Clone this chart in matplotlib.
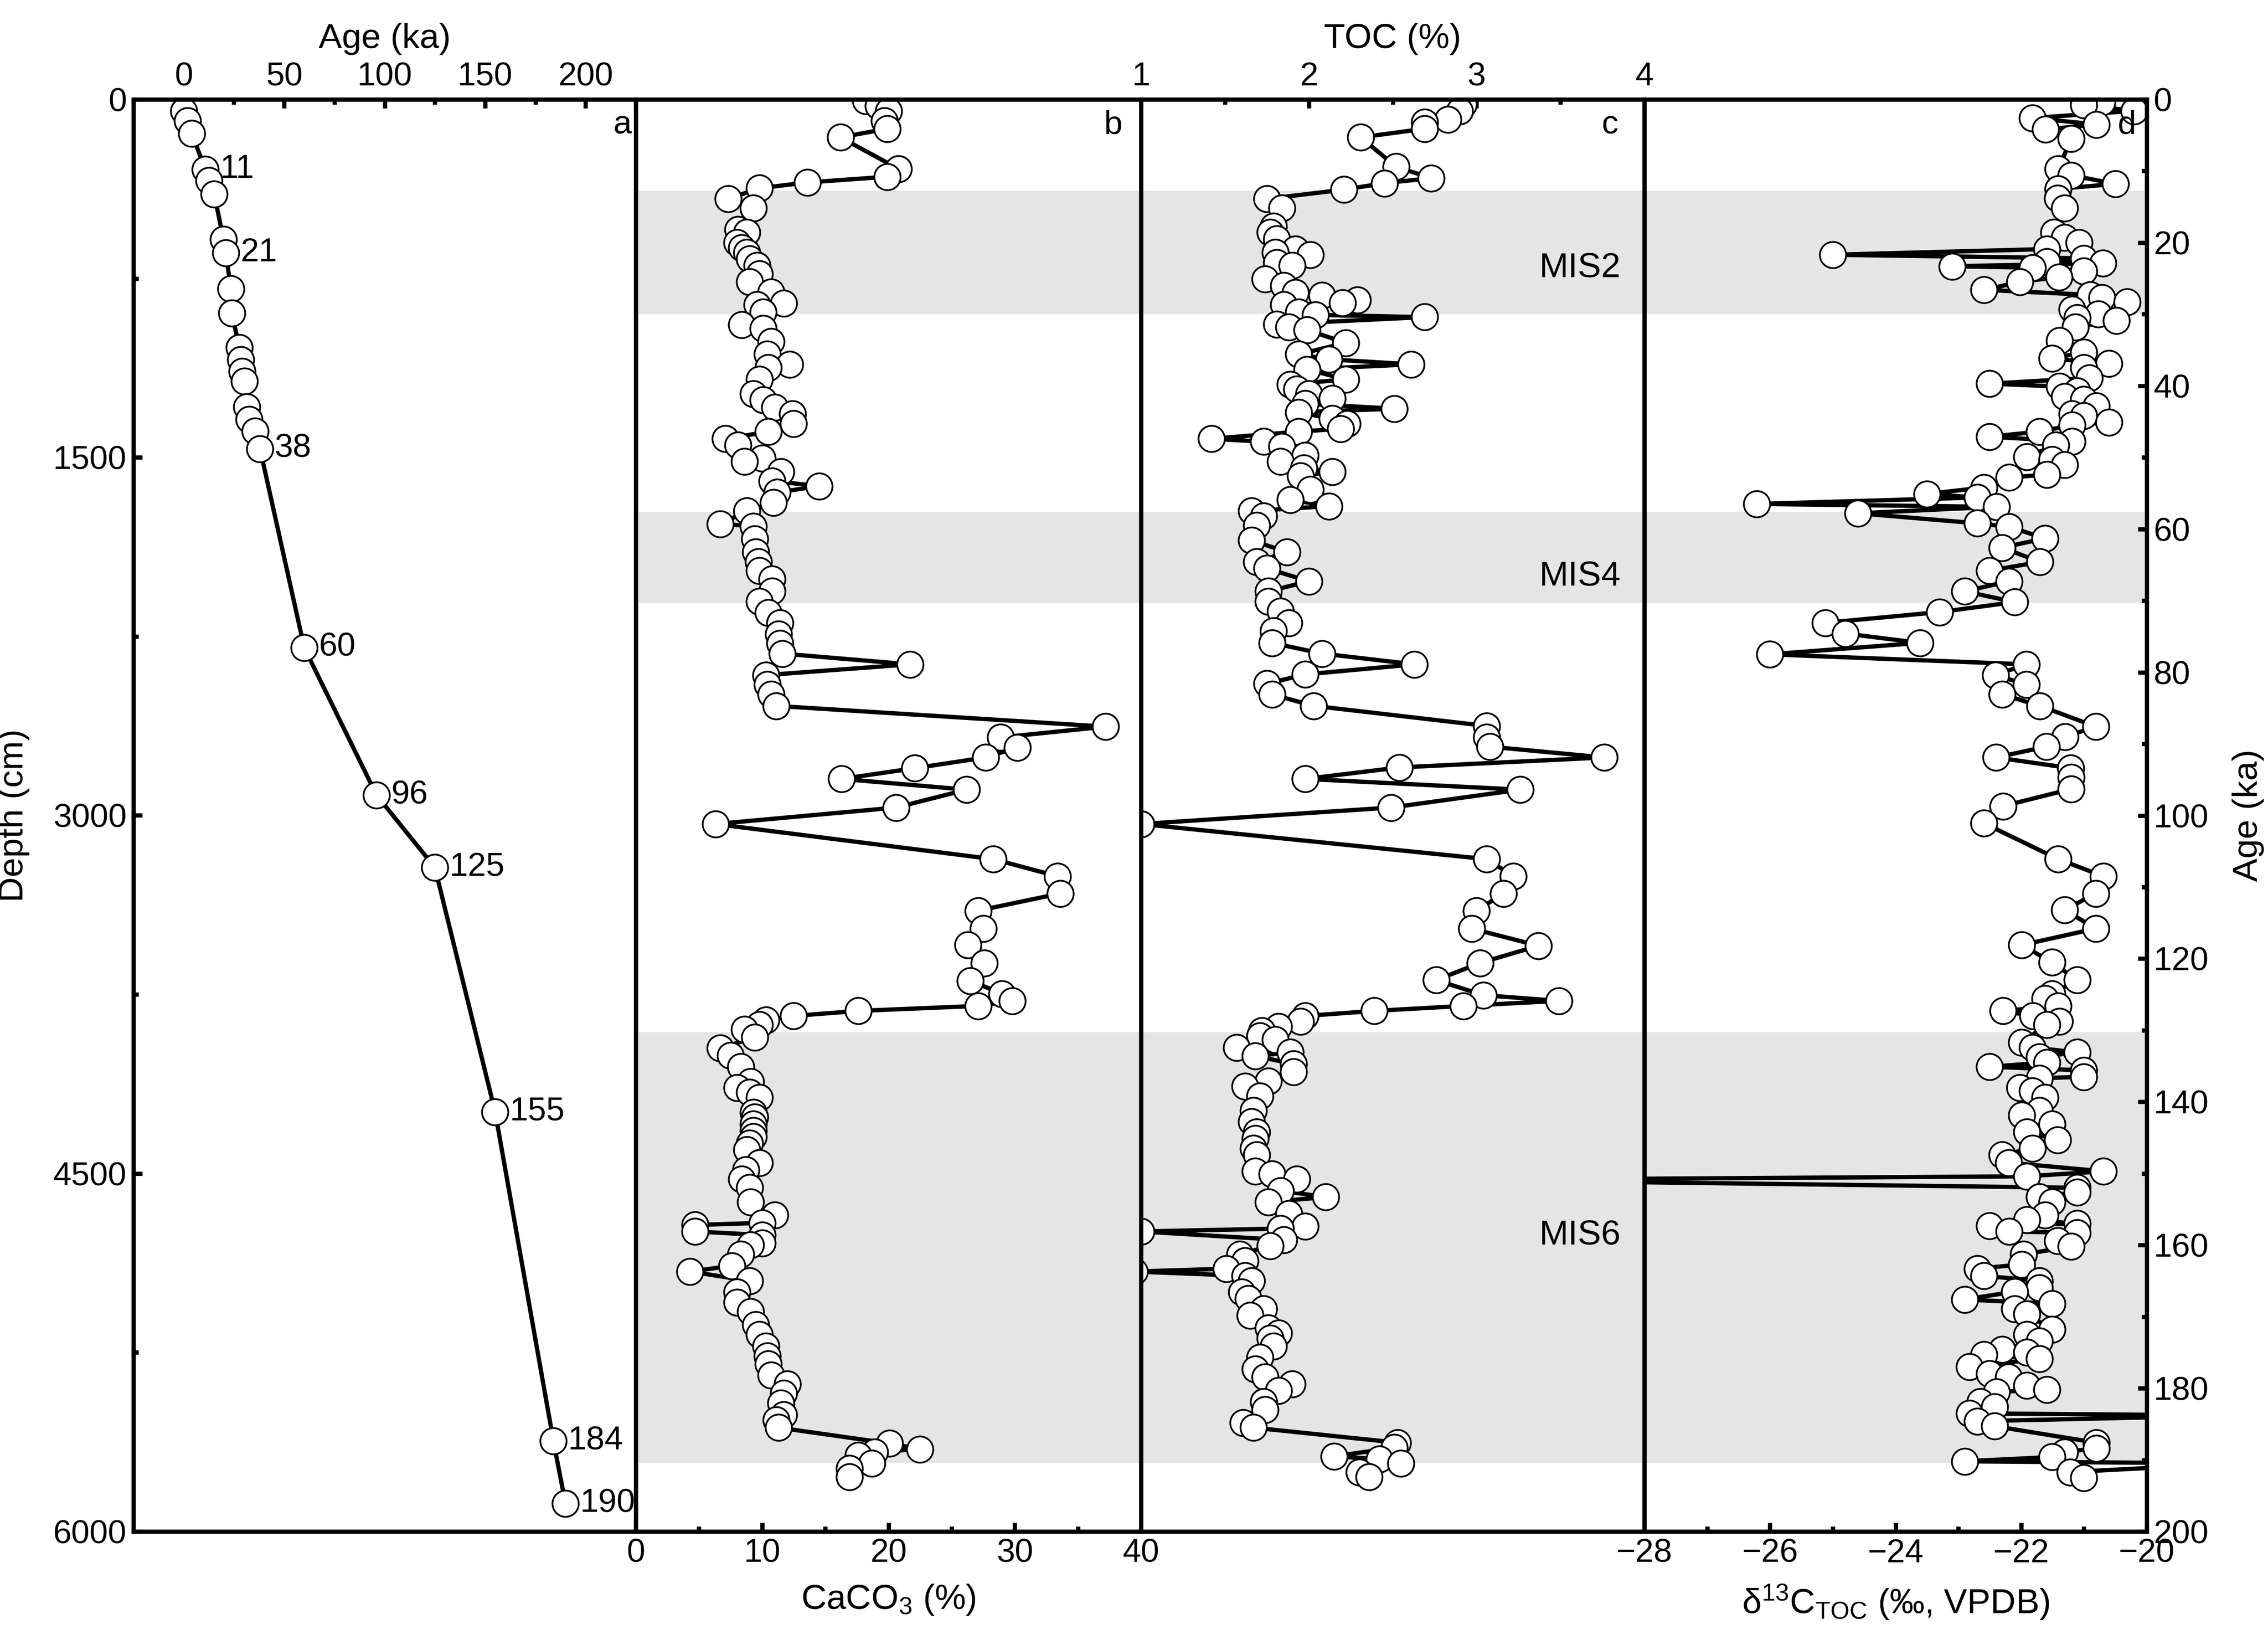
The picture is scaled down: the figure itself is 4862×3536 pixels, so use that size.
import matplotlib
matplotlib.use('Agg')
import matplotlib.pyplot as plt
from matplotlib.ticker import MultipleLocator

plt.rcParams['font.family'] = ['Liberation Sans', 'DejaVu Sans']
plt.rcParams['mathtext.fontset'] = 'custom'
plt.rcParams['mathtext.rm'] = 'Liberation Sans'
plt.rcParams['mathtext.it'] = 'Liberation Sans:italic'

# ---- panel a: age-depth model ----
ad_depth = [48, 89, 143, 293, 341, 396, 587, 644, 794, 896, 1040, 1091, 1139, 1180,
            1289, 1341, 1391, 1464, 2297, 2915, 3218, 4242, 5621, 5883]
ad_age = [0, 2, 4, 10.8, 12.5, 15.2, 19.8, 21, 23.5, 24, 27.7, 28.3, 29, 30.2,
          31.3, 32.5, 35.6, 38, 60, 96, 125, 155, 184, 190]
ad_label_idx = [3, 7, 17, 18, 19, 20, 21, 22, 23]
ad_labels = ['11', '21', '38', '60', '96', '125', '155', '184', '190']

# ---- panel b: CaCO3 (%) vs age (ka) ----
caco3_age = [0.2, 0.9, 1.6, 3.0, 4.1, 5.3, 9.7, 10.8, 11.6, 12.4, 13.9, 15.2, 18.2, 18.6,
             20.0, 20.7, 21.4, 22.3, 23.2, 24.4, 25.5, 26.9, 28.5, 28.7, 29.7, 31.5, 32.0,
             33.8, 35.6, 37.0, 37.5, 39.1, 41.1, 42.0, 43.0, 43.9, 45.3, 46.4, 47.4, 48.3,
             50.1, 50.6, 52.0, 53.3, 54.0, 54.9, 56.3, 57.5, 59.3, 59.6, 61.4, 63.2, 64.6,
             65.8, 67.0, 68.7, 70.1, 71.7, 73.1, 74.7, 76.0, 77.4, 78.9, 80.4, 81.7, 83.1,
             84.7, 87.6, 89.1, 90.5, 91.9, 93.4, 94.9, 96.4, 98.9, 101.2, 106.1, 108.5,
             110.9, 113.3, 115.8, 118.1, 120.6, 123.1, 124.9, 125.9, 126.6, 127.3, 128.0,
             128.6, 129.2, 129.9, 131.0, 132.5, 133.5, 135.1, 137.2, 138.0, 138.7, 139.4,
             141.5, 142.1, 143.1, 144.0, 144.9, 145.8, 146.7, 148.5, 149.5, 150.8, 152.0,
             154.0, 155.8, 156.9, 157.2, 158.1, 158.6, 159.7, 160.0, 161.3, 162.9, 163.7,
             165.0, 166.6, 168.0, 169.3, 171.1, 172.5, 174.1, 175.5, 176.6, 178.2, 179.4,
             180.7, 182.1, 183.7, 184.4, 185.5, 187.7, 188.5, 188.9, 189.4, 190.5, 191.2,
             192.4]
caco3 = [18.2, 19.2, 20.0, 19.7, 19.9, 16.2, 20.8, 19.9, 13.6, 9.8, 7.3, 9.3, 8.1, 8.8,
         8.0, 8.4, 8.8, 9.0, 9.6, 9.8, 9.0, 10.7, 11.7, 9.6, 10.1, 8.4, 10.1,
         10.7, 10.4, 12.2, 10.5, 9.8, 9.3, 10.1, 11.0, 12.4, 12.5, 10.5, 7.1, 8.1,
         10.0, 8.6, 11.5, 10.8, 14.5, 11.2, 10.9, 8.8, 6.7, 9.3, 9.4, 9.5, 9.7,
         9.8, 10.8, 10.8, 9.8, 10.5, 11.4, 11.3, 11.4, 11.6, 21.7, 10.3, 10.4, 10.7,
         11.1, 37.2, 28.9, 30.2, 27.7, 22.1, 16.3, 26.2, 20.6, 6.3, 28.3, 33.4,
         33.6, 27.1, 27.5, 26.3, 27.6, 26.5, 29.0, 29.8, 27.1, 17.6, 12.5,
         10.3, 9.8, 8.6, 9.4, 6.7, 7.5, 8.3, 9.1, 8.0, 9.0, 9.8,
         9.3, 9.4, 9.3, 9.3, 9.3, 9.0, 8.8, 9.8, 8.7, 8.4, 9.0,
         9.1, 11.0, 10.0, 4.7, 4.7, 10.0, 10.0, 9.1, 8.3, 7.6, 4.3,
         9.0, 8.0, 8.0, 9.1, 9.5, 9.8, 10.3, 10.4, 10.5, 10.7, 12.0,
         11.7, 11.5, 11.7, 11.1, 11.3, 20.1, 22.5, 18.9, 17.6, 18.7, 16.9,
         16.9]

# ---- panel c: TOC (%) vs age (ka) ----
toc_age = [0.7, 1.6, 2.8, 3.2, 4.1, 5.3, 9.4, 11.0, 11.7, 12.6, 13.9, 15.2, 17.7, 18.6,
           19.5, 20.9, 21.4, 21.7, 22.8, 23.2, 25.1, 26.0, 27.0, 27.4, 28.0, 28.4, 28.7,
           29.7, 30.1, 30.4, 31.4, 31.8, 32.2, 34.0, 35.6, 36.3, 37.0, 37.7, 39.1, 39.8,
           40.5, 41.1, 41.8, 42.5, 43.2, 43.7, 44.6, 45.3, 46.0, 46.4, 47.4, 47.8, 48.5,
           49.7, 50.6, 51.5, 52.0, 52.6, 54.5, 55.9, 56.8, 57.5, 58.2, 59.5, 61.6, 63.2,
           64.6, 65.5, 67.3, 68.7, 70.1, 71.5, 73.1, 74.2, 75.9, 77.4, 78.9, 80.3, 81.6,
           83.1, 84.7, 87.5, 89.1, 90.4, 91.9, 93.3, 94.9, 96.4, 98.9, 101.2, 106.1,
           108.5, 110.9, 113.3, 115.8, 118.2, 120.6, 123.0, 125.1, 125.9, 126.6, 127.3,
           128.0, 128.8, 129.5, 130.1, 130.8, 131.3, 132.4, 133.1, 133.6, 134.7, 135.8,
           137.1, 137.8, 139.2, 141.2, 142.8, 144.2, 145.1, 146.5, 147.4, 149.7, 150.1,
           150.8, 152.4, 153.3, 154.0, 155.6, 157.4, 157.7, 158.1, 159.3, 160.1, 161.3,
           162.2, 163.3, 163.7, 164.3, 165.0, 166.6, 167.5, 168.9, 169.8, 171.6, 172.3,
           173.0, 174.1, 175.7, 177.3, 178.4, 179.4, 180.3, 181.9, 183.0, 184.8, 185.5,
           187.6, 188.3, 189.5, 189.9, 190.5, 191.7, 192.4]
toc = [2.92, 2.90, 2.83, 2.69, 2.69, 2.31, 2.52, 2.73, 2.45, 2.21, 1.75, 1.84, 1.79, 1.77,
       1.81, 1.92, 1.80, 2.01, 1.81, 1.90, 1.74, 1.85, 1.92, 2.08, 2.29, 2.20, 1.85,
       1.94, 2.04, 2.69, 1.81, 1.88, 1.99, 2.22, 1.94, 2.12, 2.61, 1.99, 2.22, 1.89,
       1.93, 2.00, 2.14, 1.98, 2.51, 1.94, 2.14, 2.23, 2.19, 1.94, 1.42, 1.73, 1.84,
       1.98, 1.83, 1.97, 2.14, 1.95, 2.01, 1.89, 2.12, 1.66, 1.73, 1.69, 1.66, 1.87,
       1.69, 1.75, 2.00, 1.76, 1.76, 1.83, 1.88, 1.79, 1.78, 2.08, 2.63, 1.98, 1.75,
       1.78, 2.03, 3.06, 3.06, 3.08, 3.76, 2.54, 1.98, 3.26, 2.49, 1.00, 3.06,
       3.22, 3.16, 3.00, 2.97, 3.37, 3.02, 2.76, 3.04, 3.49, 2.92, 2.39,
       1.98, 1.95, 1.82, 1.72, 1.71, 1.80, 1.57, 1.89, 1.68, 1.91, 1.91,
       1.76, 1.62, 1.71, 1.67, 1.66, 1.69, 1.68, 1.67, 1.69, 1.68, 1.78,
       1.93, 1.83, 2.10, 1.76, 1.88, 1.98, 1.83, 1.00, 1.85, 1.77, 1.59,
       1.62, 1.51, 0.96, 1.62, 1.66, 1.60, 1.64, 1.73, 1.65, 1.76, 1.82,
       1.77, 1.79, 1.71, 1.68, 1.74, 1.90, 1.82, 1.73, 1.74, 1.61, 1.67,
       2.53, 2.51, 2.15, 2.42, 2.55, 2.30, 2.36]

# ---- panel d: d13C_TOC (permil) vs age (ka) ----
d13c_age = [0.4, 0.8, 1.6, 2.6, 3.5, 4.2, 5.5, 9.7, 10.6, 11.8, 12.5, 13.8, 15.2, 18.6,
            19.3, 20.0, 20.9, 21.7, 22.2, 22.7, 22.9, 23.3, 23.5, 24.0, 24.8, 25.5, 26.6,
            27.3, 27.7, 28.3, 29.3, 30.0, 30.5, 30.9, 31.8, 33.7, 35.3, 36.2, 36.9, 37.5,
            38.9, 39.7, 40.1, 40.7, 41.5, 41.9, 42.8, 43.9, 44.2, 45.1, 45.5, 46.4, 47.1,
            47.8, 48.3, 49.9, 50.3, 51.0, 52.4, 52.8, 54.2, 55.1, 55.6, 56.5, 56.9, 57.8,
            59.2, 59.7, 61.3, 62.6, 64.6, 65.8, 67.3, 68.7, 70.2, 71.6, 73.1, 74.6, 75.9,
            77.5, 78.9, 80.4, 81.7, 83.1, 84.7, 87.6, 89.0, 90.4, 91.9, 93.4, 94.7, 96.3,
            98.7, 101.1, 106.1, 108.5, 110.9, 113.2, 115.8, 118.1, 120.5, 123.0, 124.9,
            125.6, 126.6, 127.3, 128.0, 128.8, 129.2, 131.7, 132.4, 133.1, 133.7, 134.5,
            135.1, 135.6, 136.5, 136.7, 138.0, 138.5, 139.4, 141.2, 141.9, 143.1, 144.2,
            145.3, 146.5, 147.4, 148.5, 149.7, 150.4, 150.9, 152.0, 152.6, 153.3, 154.0,
            155.8, 156.5, 157.0, 157.3, 158.1, 158.3, 159.4, 160.2, 161.3, 162.7, 163.3,
            164.3, 165.0, 166.0, 166.5, 167.6, 168.2, 168.9, 169.6, 171.8, 172.5, 173.4,
            174.6, 175.0, 175.3, 175.9, 177.0, 178.0, 178.4, 179.6, 180.2, 180.5, 181.9,
            182.6, 183.5, 183.8, 184.6, 185.3, 187.6, 188.4, 188.9, 189.6, 190.2, 190.5,
            191.7, 192.5]
d13c = [-20.71, -21.0, -20.2, -21.82, -20.8, -21.61, -21.2, -21.41, -21.2, -20.5, -21.41,
        -21.42, -21.31, -21.48, -21.31, -21.08, -21.59, -25.0, -21.0, -21.59, -20.7, -23.1,
        -21.82, -21.0, -21.4, -22.02, -22.59, -20.9, -20.71, -20.31, -21.19, -20.77,
        -21.11, -20.48, -21.14, -21.39, -21.0, -21.51, -20.6, -21.0, -20.91, -22.5,
        -21.39, -21.11, -21.31, -21.0, -20.8, -21.19, -21.0, -20.6, -21.19, -21.71,
        -22.5, -21.19, -21.45, -21.91, -21.51, -21.31, -21.59, -22.19, -22.59, -23.5,
        -22.7, -26.21, -22.39, -24.6, -22.7, -22.19, -21.62, -22.3, -21.7, -22.5,
        -22.19, -22.9, -22.1, -23.3, -25.12, -24.8, -23.61, -26.0, -21.92, -22.41,
        -21.92, -22.3, -21.7, -20.81, -21.3, -21.6, -22.4, -21.21, -21.2, -21.2,
        -22.29, -22.59, -21.41, -20.69, -20.81, -21.31, -20.81, -21.99, -21.51,
        -21.11, -21.51, -21.62, -21.41, -22.29, -21.81, -21.39, -21.59, -21.99,
        -21.82, -21.11, -21.71, -21.59, -22.5, -21.0, -21.0, -21.71, -22.02, -21.82,
        -21.62, -21.71, -21.99, -21.51, -21.91, -21.42, -21.82, -22.3, -22.2, -20.69,
        -21.91, -31.0, -21.11, -21.11, -21.71, -21.51, -21.62, -21.91, -21.11, -22.5,
        -22.19, -21.11, -21.42, -21.2, -21.96, -21.99, -22.7, -22.59, -21.71, -21.71,
        -22.1, -22.9, -21.51, -22.1, -21.91, -21.51, -21.91, -21.71, -22.3, -21.91,
        -22.59, -21.71, -22.82, -22.5, -22.2, -21.91, -21.59, -22.39, -22.65, -22.42,
        -22.82, -18.6, -22.7, -22.42, -20.8, -20.8, -21.31, -21.51, -22.9, -18.6,
        -21.22, -21.0]

mis_names = ['MIS2', 'MIS4', 'MIS6']
mis_top = [12.8, 57.6, 130.3]
mis_bottom = [30.0, 70.3, 190.4]
mis_label_age = [23.5, 66.6, 158.6]

W, H = 4862, 3536
fig = plt.figure(figsize=(W / 300, H / 300), dpi=300)

edges = [286, 1363, 2446, 3525, 4602]
bottom = 1 - 3282 / H
height = (3282 - 213) / H
axes = []
for i in range(4):
    ax = fig.add_axes([edges[i] / W, bottom, (edges[i + 1] - edges[i]) / W, height])
    axes.append(ax)
ax_a, ax_b, ax_c, ax_d = axes

fs = 17
lfs = 18
style = dict(color='black', lw=2.2, marker='o', ms=13.5, mfc='white', mec='black', mew=0.9)

for ax in axes:
    for s in ax.spines.values():
        s.set_linewidth(2.2)
    ax.tick_params(which='both', direction='in', labelsize=fs, width=2.2)
    ax.tick_params(which='major', length=4.5)
    ax.tick_params(which='minor', length=2.7)
    ax.tick_params(which='both', left=False, right=False, top=False, bottom=False,
                   labelleft=False, labelright=False, labeltop=False, labelbottom=False)

# panel a
ax_a.plot(ad_age, ad_depth, **style)
for i, lab in zip(ad_label_idx, ad_labels):
    ax_a.annotate(lab, (ad_age[i], ad_depth[i]), xytext=(7.5, 0), textcoords='offset points',
                  ha='left', va='center', fontsize=fs)
ax_a.set_xlim(-25, 225)
ax_a.set_ylim(6000, 0)
ax_a.xaxis.set_major_locator(MultipleLocator(50))
ax_a.xaxis.set_minor_locator(MultipleLocator(25))
ax_a.yaxis.set_major_locator(MultipleLocator(1500))
ax_a.yaxis.set_minor_locator(MultipleLocator(750))
ax_a.tick_params(axis='x', which='both', top=True, labeltop=True)
ax_a.tick_params(axis='y', which='both', left=True, labelleft=True)
ax_a.xaxis.set_label_position('top')
ax_a.set_xlabel('Age (ka)', fontsize=lfs, labelpad=7)
ax_a.set_ylabel('Depth (cm)', fontsize=lfs, labelpad=12)

# bands in b, c, d
for ax in (ax_b, ax_c, ax_d):
    for t, b in zip(mis_top, mis_bottom):
        ax.axhspan(t, b, color='#e5e5e5', lw=0, zorder=0)
    ax.set_ylim(200, 0)

ax_b.plot(caco3, caco3_age, **style)
ax_b.set_xlim(0, 40)
ax_b.xaxis.set_major_locator(MultipleLocator(10))
ax_b.xaxis.set_minor_locator(MultipleLocator(5))
ax_b.tick_params(axis='x', which='both', bottom=True, labelbottom=True)
ax_b.set_xlabel('CaCO$_3$ (%)', fontsize=lfs, labelpad=7)

ax_c.plot(toc, toc_age, **style)
ax_c.set_xlim(1, 4)
ax_c.xaxis.set_major_locator(MultipleLocator(1))
ax_c.xaxis.set_minor_locator(MultipleLocator(0.5))
ax_c.tick_params(axis='x', which='both', top=True, labeltop=True)
ax_c.xaxis.set_label_position('top')
ax_c.set_xlabel('TOC (%)', fontsize=lfs, labelpad=7)
for name, a in zip(mis_names, mis_label_age):
    ax_c.text(3.86, a, name, ha='right', va='center', fontsize=lfs)

ax_d.plot(d13c, d13c_age, **style)
ax_d.set_xlim(-28, -20)
ax_d.xaxis.set_major_locator(MultipleLocator(2))
ax_d.xaxis.set_minor_locator(MultipleLocator(1))
ax_d.yaxis.set_major_locator(MultipleLocator(20))
ax_d.yaxis.set_minor_locator(MultipleLocator(10))
ax_d.tick_params(axis='x', which='both', bottom=True, labelbottom=True)
ax_d.tick_params(axis='y', which='both', right=True, labelright=True)
ax_d.yaxis.set_label_position('right')
ax_d.set_xlabel(r'δ$^{13}$C$_{\mathrm{TOC}}$ (‰, VPDB)', fontsize=lfs, labelpad=7)
ax_d.set_ylabel('Age (ka)', fontsize=lfs, labelpad=12, rotation=90)

for ax, lab, xp in zip(axes, ['a', 'b', 'c', 'd'], [0.974, 0.945, 0.932, 0.961]):
    ax.text(xp, 0.982, lab, transform=ax.transAxes, ha='center', va='center', fontsize=fs)

fig.savefig('out.png', dpi=300)
